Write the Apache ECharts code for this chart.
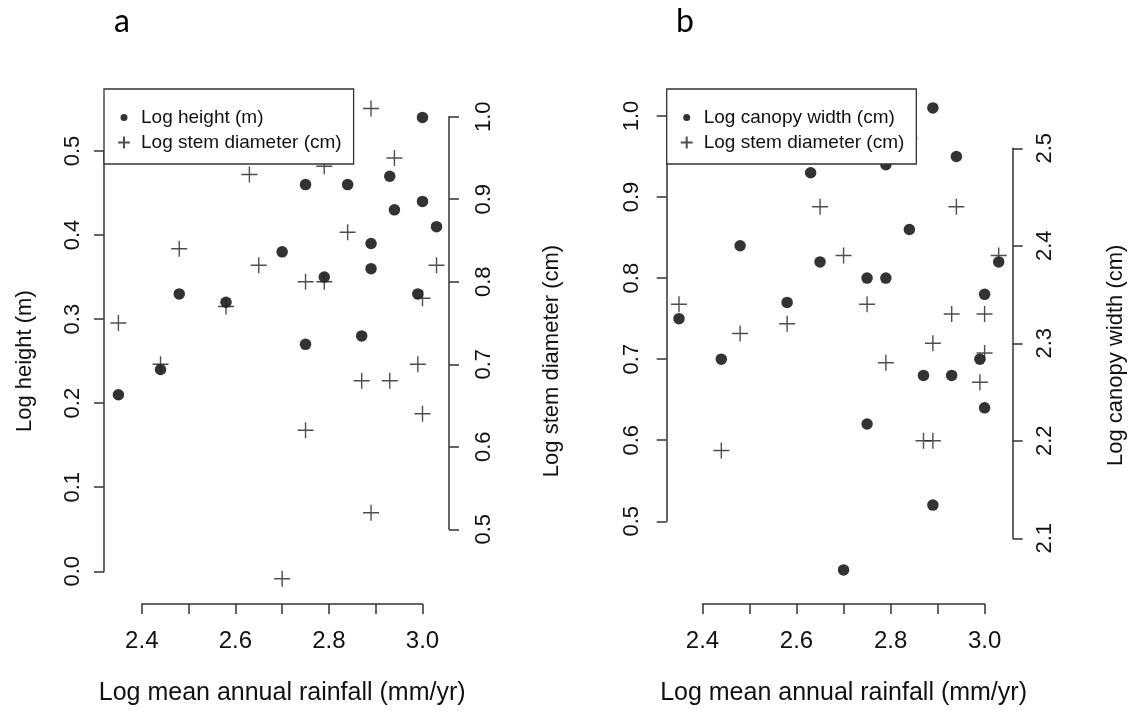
<!DOCTYPE html>
<html>
<head>
<meta charset="utf-8">
<script src="https://cdn.jsdelivr.net/npm/echarts@6/dist/echarts.min.js"></script>
<style>
  html, body { margin: 0; padding: 0; background: #fff; }
  #chart { width: 1133px; height: 711px; }
</style>
</head>
<body>
<div id="chart"></div>
<script>
// ---------------- DATA ----------------
// Panel a: Log height (m) vs log rainfall (left axis)
const heightX = [2.35, 2.44, 2.48, 2.58, 2.70, 2.75, 2.75, 2.79, 2.84, 2.87, 2.89, 2.89, 2.93, 2.94, 2.99, 3.00, 3.00, 3.03];
const heightY = [0.21, 0.24, 0.33, 0.32, 0.38, 0.46, 0.27, 0.35, 0.46, 0.28, 0.39, 0.36, 0.47, 0.43, 0.33, 0.54, 0.44, 0.41];
// Panel a: Log stem diameter (cm) (right axis)
const stemX = [2.35, 2.44, 2.48, 2.58, 2.63, 2.65, 2.70, 2.75, 2.75, 2.79, 2.79, 2.84, 2.87, 2.89, 2.89, 2.93, 2.94, 2.99, 3.00, 3.00, 3.03];
const stemY = [0.75, 0.70, 0.84, 0.77, 0.93, 0.82, 0.44, 0.80, 0.62, 0.94, 0.80, 0.86, 0.68, 1.01, 0.52, 0.68, 0.95, 0.70, 0.78, 0.64, 0.82];
// Panel b: dots (legend "Log canopy width (cm)") on left axis 0.5-1.0
const canopyDotX = [2.35, 2.44, 2.48, 2.58, 2.63, 2.65, 2.70, 2.75, 2.75, 2.79, 2.79, 2.84, 2.87, 2.89, 2.89, 2.93, 2.94, 2.99, 3.00, 3.00, 3.03];
const canopyDotY = [0.75, 0.70, 0.84, 0.77, 0.93, 0.82, 0.44, 0.80, 0.62, 0.94, 0.80, 0.86, 0.68, 1.01, 0.52, 0.68, 0.95, 0.70, 0.78, 0.64, 0.82];
// Panel b: crosses (legend "Log stem diameter (cm)") on right axis 2.1-2.5
const stemCrossX = [2.35, 2.44, 2.48, 2.58, 2.65, 2.70, 2.75, 2.79, 2.84, 2.87, 2.89, 2.89, 2.93, 2.94, 2.99, 3.00, 3.00, 3.03];
const stemCrossY = [2.34, 2.19, 2.31, 2.32, 2.44, 2.39, 2.34, 2.28, 2.51, 2.20, 2.30, 2.20, 2.33, 2.44, 2.26, 2.33, 2.29, 2.39];

const xTickLabels = ['2.4', '2.6', '2.8', '3.0'];
const xTitle = 'Log mean annual rainfall (mm/yr)';
const panelLabels = ['a', 'b'];

// ---------------- STYLE ----------------
const FONT = '"Liberation Sans", Arial, sans-serif';
const AX = '#333';
const TXT = '#111';
const dotPath = 'path://M0,0 M20,16 M4.5,8 A3.5,3.5 0 1 1 11.5,8 A3.5,3.5 0 1 1 4.5,8 Z';
const crossIcon = 'path://M0,0 M20,16 M2,8 L14,8 M8,2 L8,14';
const crossSymbol = 'path://M0,8 L16,8 M8,0 L8,16';

const zip = (xs, ys) => xs.map((x, i) => [x, ys[i]]);

function xAxisDef(gridIndex, visible, offset) {
  return {
    type: 'value', gridIndex, min: 2.4, max: 3.0, interval: 0.1, show: visible, offset,
    name: visible ? xTitle : '', nameLocation: 'middle', nameGap: 77,
    nameTextStyle: { fontFamily: FONT, fontSize: 25, color: TXT },
    axisLine: { show: true, onZero: false, lineStyle: { color: AX, width: 1.5 } },
    axisTick: { show: true, inside: false, length: 10, lineStyle: { color: AX, width: 1.5 } },
    axisLabel: {
      margin: 25, fontFamily: FONT, fontSize: 24, color: TXT,
      formatter: v => { const s = v.toFixed(1); return xTickLabels.indexOf(s) >= 0 ? s : ''; }
    },
    splitLine: { show: false }
  };
}
function yAxisDef(gridIndex, position, min, max, offset, name, nameGap, labelMargin, nameShift) {
  return {
    type: 'value', gridIndex, position, min, max, interval: 0.1, offset,
    name, nameLocation: 'middle', nameGap, nameRotate: 90,
    nameTextStyle: { fontFamily: FONT, fontSize: 22, color: TXT, padding: [0, Math.max(0, 2 * nameShift), 0, Math.max(0, -2 * nameShift)] },
    axisLine: { show: true, onZero: false, lineStyle: { color: AX, width: 1.5 } },
    axisTick: { show: true, inside: false, length: 10, lineStyle: { color: AX, width: 1.5 } },
    axisLabel: { rotate: 90, margin: labelMargin, fontFamily: FONT, fontSize: 22, color: TXT, formatter: v => v.toFixed(1) },
    splitLine: { show: false }
  };
}
function legendDef(left, names) {
  return {
    orient: 'vertical', left, top: 89, selectedMode: false,
    backgroundColor: '#fff', borderColor: AX, borderWidth: 1.3, borderRadius: 0,
    padding: [19, 12, 12, 11], itemGap: 6, itemWidth: 20, itemHeight: 16,
    textStyle: { fontFamily: FONT, fontSize: 19, color: TXT, lineHeight: 16 },
    data: [ { name: names[0], icon: dotPath }, { name: names[1], icon: crossIcon } ]
  };
}
const dotStyle = { color: '#000' };
const crossStyle = { color: 'transparent', borderColor: '#222', borderWidth: 1.4 };

const option = {
  backgroundColor: '#fff',
  animation: false,
  title: [
    { text: panelLabels[0], left: 109, top: 1, textStyle: { fontFamily: 'Lato, sans-serif', fontSize: 32, fontWeight: 'normal', color: '#000' } },
    { text: panelLabels[1], left: 671, top: 1, textStyle: { fontFamily: 'Lato, sans-serif', fontSize: 32, fontWeight: 'normal', color: '#000' } }
  ],
  grid: [
    { left: 141.8, top: 151, width: 280.7, height: 427.3 },
    { left: 141.8, top: 116.7, width: 280.7, height: 412.6 },
    { left: 702.5, top: 116, width: 282.1, height: 413.3 },
    { left: 702.5, top: 148.3, width: 282.1, height: 390 }
  ],
  xAxis: [
    xAxisDef(0, true, 32.7),
    xAxisDef(1, false, 0),
    xAxisDef(2, true, 82.7),
    xAxisDef(3, false, 0)
  ],
  yAxis: [
    yAxisDef(0, 'left', 0, 0.5, 37.8, 'Log height (m)', 68, 20, 0),
    yAxisDef(1, 'right', 0.5, 1.0, 26.5, 'Log stem diameter (cm)', 92, 24, 38),
    yAxisDef(2, 'left', 0.5, 1.0, 35.8, '', 50, 24, 0),
    yAxisDef(3, 'right', 2.1, 2.5, 28.1, 'Log canopy width (cm)', 92, 21, 12)
  ],
  legend: [
    legendDef(104, ['Log height (m)', 'Log stem diameter (cm)']),
    legendDef(666.7, ['Log canopy width (cm)', 'Log stem diameter (cm)'])
  ],
  series: [
    { type: 'scatter', name: 'Log height (m)', xAxisIndex: 0, yAxisIndex: 0, clip: false,
      symbol: 'circle', symbolSize: 11.5, itemStyle: dotStyle, data: zip(heightX, heightY) },
    { type: 'scatter', name: 'Log stem diameter (cm)', xAxisIndex: 1, yAxisIndex: 1, clip: false,
      symbol: crossSymbol, symbolSize: 16, itemStyle: crossStyle, data: zip(stemX, stemY) },
    { type: 'scatter', name: 'Log canopy width (cm)', xAxisIndex: 2, yAxisIndex: 2, clip: false,
      symbol: 'circle', symbolSize: 11.5, itemStyle: dotStyle, data: zip(canopyDotX, canopyDotY) },
    { type: 'scatter', name: 'Log stem diameter (cm)', xAxisIndex: 3, yAxisIndex: 3, clip: false,
      symbol: crossSymbol, symbolSize: 16, itemStyle: crossStyle, data: zip(stemCrossX, stemCrossY) }
  ]
};

const chart = echarts.init(document.getElementById('chart'), null, { renderer: 'canvas' });
chart.setOption(option);
</script>
</body>
</html>
